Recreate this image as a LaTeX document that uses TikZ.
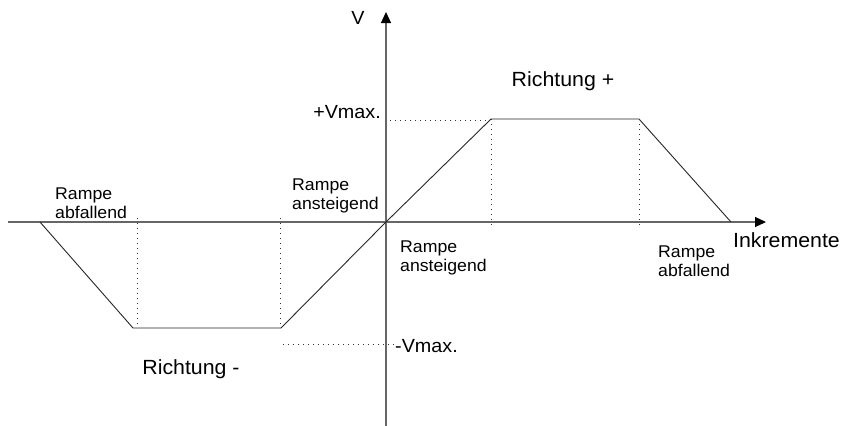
\documentclass[tikz,border=0pt]{standalone}
\usepackage{fontspec}
\setmainfont[FakeStretch=1.04]{Liberation Sans}
\usetikzlibrary{arrows.meta}
\begin{document}
\begin{tikzpicture}[x=1pt,y=-1pt,
  lab/.style={inner sep=0pt, font=\fontsize{17}{19.5}\selectfont, align=left},
  big/.style={inner sep=0pt, font=\fontsize{20.5}{23}\selectfont},
  mid/.style={inner sep=0pt, font=\fontsize{19}{22}\selectfont},
  axisline/.style={line width=1.1pt, draw=black!60, -{Triangle[length=11pt,width=10pt,color=black]}},
  curve/.style={line width=0.9pt, draw=black!85},
  guide/.style={line width=1pt, draw=black!80, dash pattern=on 1pt off 4pt}]
\useasboundingbox (0,0) rectangle (855,426);
% axes
\coordinate (ybot) at (386,426);
\coordinate (ytop) at (386,12);
\coordinate (xl) at (8,222);
\coordinate (xr) at (766,222);
\draw[axisline] (ybot) -- (ytop);
\draw[axisline] (xl) -- (xr);
% upper trapezoid
\coordinate (O) at (386,222);
\coordinate (A) at (491,119);
\coordinate (B) at (639,119);
\coordinate (C) at (731,222);
\draw[curve] (O) -- (A) -- (B) -- (C);
% lower trapezoid
\coordinate (D) at (40,222);
\coordinate (E) at (133,328);
\coordinate (F) at (281,328);
\draw[curve] (D) -- (E) -- (F) -- (O);
% guides
\coordinate (Ab) at (491,228);
\coordinate (Bb) at (639,228);
\draw[guide] (A) -- (Ab);
\draw[guide] (B) -- (Bb);
\coordinate (Gt) at (137,218);
\coordinate (Gb) at (137,328);
\coordinate (Ht) at (280,218);
\coordinate (Hb) at (280,328);
\draw[guide] (Gt) -- (Gb);
\draw[guide] (Ht) -- (Hb);
\coordinate (pv1) at (390,120);
\coordinate (pv2) at (487,120);
\draw[guide] (pv1) -- (pv2);
\coordinate (nv1) at (283,344);
\coordinate (nv2) at (394,344);
\draw[guide] (nv1) -- (nv2);
% labels
\node[mid] (vlab) at (358,18) {V};
\node[mid, anchor=east] (vmaxp) at (381,112) {+Vmax.};
\node[mid, anchor=west] (vmaxn) at (395,346) {-Vmax.};
\node[big] (richp) at (563,81) {Richtung +};
\node[big] (richn) at (191,369) {Richtung -};
\node[big, anchor=west] (inkr) at (733,240) {Inkremente};
\node[lab, anchor=west] (r1) at (55,203) {Rampe\\abfallend};
\node[lab, anchor=west] (r2) at (292,196) {Rampe\\ansteigend};
\node[lab, anchor=west] (r3) at (400,258) {Rampe\\ansteigend};
\node[lab, anchor=west] (r4) at (658,261) {Rampe\\abfallend};
\end{tikzpicture}
\end{document}
